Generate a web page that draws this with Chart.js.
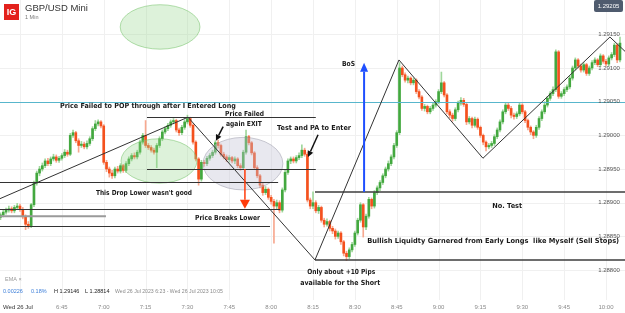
<!DOCTYPE html>
<html>
<head>
<meta charset="utf-8">
<script src="https://cdn.jsdelivr.net/npm/chart.js@4.4.0/dist/chart.umd.min.js"></script>
<style>
  html, body { margin: 0; padding: 0; background: #fff; }
  #wrap { width: 625px; height: 313px; position: relative; }
</style>
</head>
<body>
<div id="wrap"><canvas id="myChart"></canvas></div>
<script>
// GBP/USD Mini, 1 minute candles, Wed 26 Jul 2023 6:23 - 10:05
// prices in points above 1.28000 (1 point = 0.00001)
var opens = [
  878,882,886,889,891,888,893,895,890,879,
  868,866,897,929,944,950,955,962,958,965,
  968,963,966,970,975,972,1000,1004,992,985,
  987,983,988,995,1010,1017,1020,1014,960,950,
  944,940,950,947,955,948,958,965,970,968,
  975,990,1000,985,982,978,975,985,995,1005,
  1010,1015,1020,1022,1008,1004,1012,1020,1025,1015,
  990,965,935,960,958,966,970,975,989,985,
  972,968,964,967,962,965,955,952,975,998,
  989,974,952,940,926,915,920,908,902,895,
  900,889,919,945,962,965,962,967,970,978,
  972,904,895,900,888,893,874,868,872,862,
  858,850,855,842,825,820,830,838,855,874,
  897,864,880,905,895,915,922,930,940,950,
  958,968,985,1004,1100,1090,1082,1085,1078,1082,
  1065,1057,1040,1043,1035,1040,1045,1050,1065,1078,
  1060,1035,1030,1025,1038,1048,1052,1046,1020,1025,
  1015,1024,1012,1000,990,983,985,988,998,1008,
  1020,1035,1045,1040,1030,1028,1032,1045,1035,1022,
  1012,1005,1000,1012,1025,1035,1045,1055,1062,1068,
  1124,1058,1062,1068,1072,1085,1100,1112,1103,1097,
  1105,1092,1100,1108,1112,1105,1118,1110,1106,1115,
  1120,1134,1112
];
var highs = [
  885,889,892,895,894,896,899,898,893,882,
  872,899,932,947,954,959,965,966,968,972,
  971,969,973,979,978,1003,1008,1006,995,991,
  990,992,998,1013,1022,1023,1022,1016,963,953,
  948,953,954,958,957,961,968,973,974,978,
  993,1003,1022,988,985,981,988,998,1008,1013,
  1018,1023,1025,1024,1011,1015,1023,1030,1027,1017,
  992,967,963,963,969,973,978,992,993,987,
  975,971,970,969,968,967,958,978,1008,1000,
  991,976,955,942,929,924,922,911,905,904,
  903,922,948,965,968,968,970,974,986,981,
  975,907,916,903,896,895,877,876,874,865,
  861,858,857,844,828,833,841,858,877,900,
  899,883,908,907,918,925,933,943,953,962,
  971,988,1007,1108,1103,1093,1088,1087,1085,1084,
  1068,1059,1046,1045,1043,1048,1053,1068,1094,1080,
  1062,1038,1033,1041,1051,1056,1055,1048,1028,1027,
  1027,1026,1014,1002,992,988,991,1001,1011,1023,
  1038,1048,1048,1043,1033,1035,1048,1047,1037,1024,
  1014,1007,1015,1028,1038,1050,1058,1065,1072,1127,
  1126,1065,1071,1075,1088,1103,1115,1114,1106,1108,
  1107,1103,1111,1115,1114,1121,1120,1113,1118,1123,
  1137,1136,1146
];
var lows = [
  875,879,883,886,885,885,890,887,876,860,
  862,863,894,926,940,947,952,955,955,962,
  960,960,963,967,969,970,997,989,975,982,
  980,980,985,992,1007,1014,1011,957,946,938,
  936,937,944,944,945,945,955,962,965,965,
  972,987,982,979,975,972,952,982,992,1002,
  1007,1012,1017,1005,1000,1001,1009,1017,1012,987,
  962,926,932,954,955,963,967,972,981,969,
  965,961,960,959,958,952,948,949,972,986,
  971,949,937,922,911,912,905,898,840,891,
  885,886,916,942,958,959,959,964,967,969,
  901,891,891,885,884,871,864,865,858,854,
  846,847,838,821,814,817,827,835,852,871,
  849,860,877,891,892,912,918,927,937,947,
  955,965,982,1001,1087,1079,1078,1075,1075,1062,
  1054,1037,1036,1032,1032,1037,1042,1047,1062,1057,
  1032,1026,1021,1022,1035,1045,1043,1016,1017,1011,
  1012,1009,997,986,977,980,982,985,995,1005,
  1017,1032,1037,1026,1024,1025,1029,1032,1019,1008,
  1001,995,997,1009,1022,1032,1042,1052,1059,1065,
  1055,1055,1059,1065,1069,1082,1097,1100,1094,1094,
  1089,1089,1097,1105,1102,1102,1107,1103,1103,1112,
  1117,1108,1109
];
var closes = [
  882,886,889,891,888,893,895,890,879,868,
  866,897,929,944,950,955,962,958,965,968,
  963,966,970,975,972,1000,1004,992,985,987,
  983,988,995,1010,1017,1020,1014,960,950,944,
  940,950,947,955,948,958,965,970,968,975,
  990,1000,985,982,978,975,985,995,1005,1010,
  1015,1020,1022,1008,1004,1012,1020,1025,1015,990,
  965,935,960,958,966,970,975,989,985,972,
  968,964,967,962,965,955,952,975,998,989,
  974,952,940,926,915,920,908,902,895,900,
  889,919,945,962,965,962,967,970,978,972,
  904,895,900,888,893,874,868,872,862,858,
  850,855,842,825,820,830,838,855,874,897,
  864,880,905,895,915,922,930,940,950,958,
  968,985,1004,1100,1090,1082,1085,1078,1082,1065,
  1057,1040,1043,1035,1040,1045,1050,1065,1078,1060,
  1035,1030,1025,1038,1048,1052,1046,1020,1025,1015,
  1024,1012,1000,990,983,985,988,998,1008,1020,
  1035,1045,1040,1030,1028,1032,1045,1035,1022,1012,
  1005,1000,1012,1025,1035,1045,1055,1062,1068,1124,
  1058,1062,1068,1072,1085,1100,1112,1103,1097,1105,
  1092,1100,1108,1112,1105,1118,1110,1106,1115,1120,
  1134,1112,1137
];

// one candle per minute, minutes of the day
var startMinute = 6 * 60 + 23;
var times = closes.map(function (c, i) { return startMinute + i; });

var tickTimes = [390, 405, 420, 435, 450, 465, 480, 495, 510, 525, 540, 555, 570, 585, 600];
var tickLabels = ['Wed 26 Jul', '6:45', '7:00', '7:15', '7:30', '7:45', '8:00', '8:15', '8:30', '8:45', '9:00', '9:15', '9:30', '9:45', '10:00'];
var priceTicks = [1.288, 1.2885, 1.289, 1.2895, 1.29, 1.2905, 1.291, 1.2915];
var priceLabels = ['1.28800', '1.28850', '1.28900', '1.28950', '1.29000', '1.29050', '1.29100', '1.29150'];
var markedPrice = 1.2905;

// drawn levels: [from minute, to minute, price, kind]
var levels = [
  [435.5, 496, 1.29027, 'thin'],
  [435.5, 496, 1.28950, 'thin'],
  [382.8, 482.5, 1.28931, 'thin'],
  [382.8, 483.2, 1.28891, 'thin'],
  [382.8, 420.8, 1.28880, 'grey'],
  [382.8, 479.6, 1.28865, 'thin'],
  [495.7, 607, 1.28916, 'thick'],
  [495.7, 607, 1.28815, 'thick']
];
// zig-zag swing line: [minute, price]
var swings = [
  [382.8, 1.28906], [450.2, 1.29027], [495.7, 1.28815], [525.8, 1.29112],
  [555.9, 1.28966], [601.4, 1.29146], [607, 1.29124]
];
// ellipses: [centre minute, centre price, half width minutes, half height price, kind]
var ellipses = [
  [439.8, 1.28962, 13.6, 0.00033, 'green'],
  [469.9, 1.28958, 14.3, 0.00039, 'grey'],
  [440.2, 1.29161, 14.3, 0.00033, 'green']
];
// arrows: [from minute, from price, to minute, to price, kind]
var arrows = [
  [470.6, 1.28950, 470.6, 1.28891, 'red'],
  [513.3, 1.28916, 513.3, 1.29108, 'blue'],
  [462.8, 1.29013, 460.2, 1.28992, 'black'],
  [496.8, 1.29001, 493.2, 1.28968, 'black']
];
// notes: [text, left minute, price, max width]
var notes = [
  ['Price Failed to POP through after I Entered Long', 404.3, 1.29044, 176],
  ['Price Failed', 463.5, 1.29032, 39],
  ['again EXIT', 463.8, 1.29016, 36],
  ['Test and PA to Enter', 482.1, 1.29010, 74],
  ["This Drop Lower wasn't good", 417.2, 1.28914, 96],
  ['Price Breaks Lower', 452.7, 1.28877, 65],
  ['BoS', 505.4, 1.29106, 13],
  ['No. Test', 559.2, 1.28895, 30],
  ['Bullish Liquidty Garnered from Early Longs  like Myself (Sell Stops)', 514.4, 1.28843, 252],
  ['Only about +10 Pips', 492.9, 1.28797, 68],
  ['available for the Short', 490.4, 1.28781, 80]
];

function toPrice(v) { return 1.28 + v / 100000; }

var green = '#43a83f', red = '#f4511e';
var greenWick = '#9fd79b', redWick = '#f7a88f';

var bodyData = times.map(function (t, i) { return { x: t, y: [toPrice(opens[i]), toPrice(closes[i])] }; });
var wickData = times.map(function (t, i) { return { x: t, y: [toPrice(lows[i]), toPrice(highs[i])] }; });
var bodyColors = closes.map(function (c, i) { return c >= opens[i] ? green : red; });
var wickColors = closes.map(function (c, i) { return c >= opens[i] ? greenWick : redWick; });

var overlay = {
  id: 'overlay',
  beforeDatasetsDraw: function (chart) {
    var ctx = chart.ctx, xs = chart.scales.x, ys = chart.scales.y, a = chart.chartArea;
    ctx.save();
    ctx.strokeStyle = '#f0f0f0';
    ctx.lineWidth = 1;
    tickTimes.forEach(function (t) {
      var x = Math.round(xs.getPixelForValue(t)) + 0.5;
      ctx.beginPath(); ctx.moveTo(x, 0); ctx.lineTo(x, 300); ctx.stroke();
    });
    priceTicks.forEach(function (p) {
      var y = Math.round(ys.getPixelForValue(p)) + 0.5;
      ctx.beginPath(); ctx.moveTo(a.left, y); ctx.lineTo(a.right, y); ctx.stroke();
    });
    ctx.restore();
  },
  afterDatasetsDraw: function (chart) {
    var ctx = chart.ctx, xs = chart.scales.x, ys = chart.scales.y, a = chart.chartArea;
    function X(m) { return xs.getPixelForValue(m); }
    function Y(p) { return ys.getPixelForValue(p); }
    ctx.save();

    // ellipses
    ellipses.forEach(function (e) {
      var cx = X(e[0]), cy = Y(e[1]);
      var rx = X(e[0] + e[2]) - cx, ry = cy - Y(e[1] + e[3]);
      ctx.beginPath();
      ctx.ellipse(cx, cy, rx, ry, 0, 0, Math.PI * 2);
      if (e[4] === 'green') {
        ctx.fillStyle = 'rgba(150, 215, 140, 0.32)';
        ctx.strokeStyle = 'rgba(120, 195, 110, 0.7)';
      } else {
        ctx.fillStyle = 'rgba(195, 195, 212, 0.38)';
        ctx.strokeStyle = 'rgba(160, 160, 175, 0.7)';
      }
      ctx.lineWidth = 0.8;
      ctx.fill(); ctx.stroke();
    });

    // marked price line
    ctx.strokeStyle = '#58b6cc';
    ctx.lineWidth = 1;
    var my = Math.round(Y(markedPrice)) + 0.5;
    ctx.beginPath(); ctx.moveTo(a.left, my); ctx.lineTo(a.right, my); ctx.stroke();

    // levels
    levels.forEach(function (l) {
      var y = Y(l[2]);
      if (l[3] === 'grey') { ctx.strokeStyle = '#9a9a9a'; ctx.lineWidth = 2; }
      else if (l[3] === 'thick') { ctx.strokeStyle = '#3c3c3c'; ctx.lineWidth = 1.5; }
      else { ctx.strokeStyle = '#333'; ctx.lineWidth = 1; y = Math.round(y) + 0.5; }
      ctx.beginPath(); ctx.moveTo(X(l[0]), y); ctx.lineTo(X(l[1]), y); ctx.stroke();
    });

    // swing line
    ctx.strokeStyle = '#333';
    ctx.lineWidth = 1;
    ctx.beginPath();
    swings.forEach(function (s, i) {
      if (i === 0) ctx.moveTo(X(s[0]), Y(s[1])); else ctx.lineTo(X(s[0]), Y(s[1]));
    });
    ctx.stroke();

    // arrows
    arrows.forEach(function (r) {
      var x1 = X(r[0]), y1 = Y(r[1]), x2 = X(r[2]), y2 = Y(r[3]);
      var col = r[4] === 'red' ? '#ff3b0a' : r[4] === 'blue' ? '#1f4fff' : '#111';
      var hl = r[4] === 'black' ? 6 : 9, hw = r[4] === 'red' ? 5 : r[4] === 'blue' ? 4 : 3;
      var ang = Math.atan2(y2 - y1, x2 - x1);
      var bx = x2 - hl * Math.cos(ang), by = y2 - hl * Math.sin(ang);
      ctx.strokeStyle = col; ctx.fillStyle = col;
      ctx.lineWidth = r[4] === 'blue' ? 2 : 1.5;
      ctx.beginPath(); ctx.moveTo(x1, y1); ctx.lineTo(bx, by); ctx.stroke();
      ctx.beginPath();
      ctx.moveTo(x2, y2);
      ctx.lineTo(bx + hw * Math.sin(ang), by - hw * Math.cos(ang));
      ctx.lineTo(bx - hw * Math.sin(ang), by + hw * Math.cos(ang));
      ctx.closePath(); ctx.fill();
    });

    // notes
    ctx.fillStyle = '#1a1a1a';
    ctx.font = 'bold 7px "DejaVu Sans"';
    ctx.textBaseline = 'middle';
    ctx.textAlign = 'left';
    notes.forEach(function (n) {
      ctx.fillText(n[0], X(n[1]), Y(n[2]), n[3]);
    });
    ctx.restore();
  },
  afterDraw: function (chart) {
    var ctx = chart.ctx, xs = chart.scales.x, ys = chart.scales.y;
    ctx.save();

    // price labels
    ctx.font = '6px "Liberation Sans"';
    ctx.fillStyle = '#555';
    ctx.textAlign = 'center';
    ctx.textBaseline = 'middle';
    priceTicks.forEach(function (p, i) {
      ctx.fillText(priceLabels[i], 609, ys.getPixelForValue(p));
    });

    // last price badge
    ctx.fillStyle = '#4f5b6e';
    ctx.beginPath();
    ctx.roundRect(594, 0, 29, 12, 2);
    ctx.fill();
    ctx.fillStyle = '#fff';
    ctx.font = '6px "Liberation Sans"';
    ctx.fillText('1.29205', 608.5, 6.5);

    // time labels
    ctx.fillStyle = '#8a8a8a';
    tickTimes.forEach(function (t, i) {
      var x = xs.getPixelForValue(t);
      if (i === 0) { ctx.textAlign = 'left'; ctx.fillStyle = '#333'; ctx.fillText(tickLabels[i], 3, 307); ctx.fillStyle = '#8a8a8a'; }
      else { ctx.textAlign = 'center'; ctx.fillText(tickLabels[i], x, 307); }
    });

    // header
    ctx.fillStyle = '#e3211c';
    ctx.fillRect(4, 4, 15, 16);
    ctx.fillStyle = '#fff';
    ctx.font = 'bold 9px "Liberation Sans"';
    ctx.textAlign = 'center';
    ctx.fillText('IG', 11.5, 12.5);
    ctx.textAlign = 'left';
    ctx.fillStyle = '#333';
    ctx.font = '9.5px "Liberation Sans"';
    ctx.fillText('GBP/USD Mini', 25, 8.5);
    ctx.fillStyle = '#777';
    ctx.font = '5.5px "Liberation Sans"';
    ctx.fillText('1 Min', 25, 17.5);

    // indicator / stats strip
    ctx.fillStyle = '#999';
    ctx.font = '5.5px "Liberation Sans"';
    ctx.fillText('EMA \u00d7', 5, 279);
    ctx.fillStyle = '#3d7fd9';
    ctx.fillText('0.00226', 3, 291);
    ctx.fillText('0.18%', 31, 291);
    ctx.fillStyle = '#222';
    ctx.fillText('H 1.29146', 54, 291);
    ctx.fillText('L 1.28814', 85, 291);
    ctx.fillStyle = '#8a8a8a';
    ctx.fillText('Wed 26 Jul 2023 6:23 - Wed 26 Jul 2023 10:05', 115, 291, 108);
    ctx.restore();
  }
};

var ctx = document.getElementById('myChart').getContext('2d');
var myChart = new Chart(ctx, {
  type: 'bar',
  data: {
    datasets: [{
      label: 'body',
      data: bodyData,
      backgroundColor: bodyColors,
      barThickness: 2,
      grouped: false,
      borderWidth: 0,
      order: 0
    }, {
      label: 'wick',
      data: wickData,
      backgroundColor: wickColors,
      barThickness: 1,
      grouped: false,
      borderWidth: 0,
      order: 1
    }]
  },
  options: {
    responsive: true,
    maintainAspectRatio: false,
    animation: false,
    layout: { padding: { left: 0, right: 0, top: 0, bottom: 16 } },
    plugins: {
      legend: { display: false },
      tooltip: { enabled: false }
    },
    scales: {
      x: { type: 'linear', display: false, offset: false, min: 382.83, max: 606.8 },
      y: { type: 'linear', display: false, min: 1.2876, max: 1.29201 }
    }
  },
  plugins: [overlay]
});
</script>
</body>
</html>
